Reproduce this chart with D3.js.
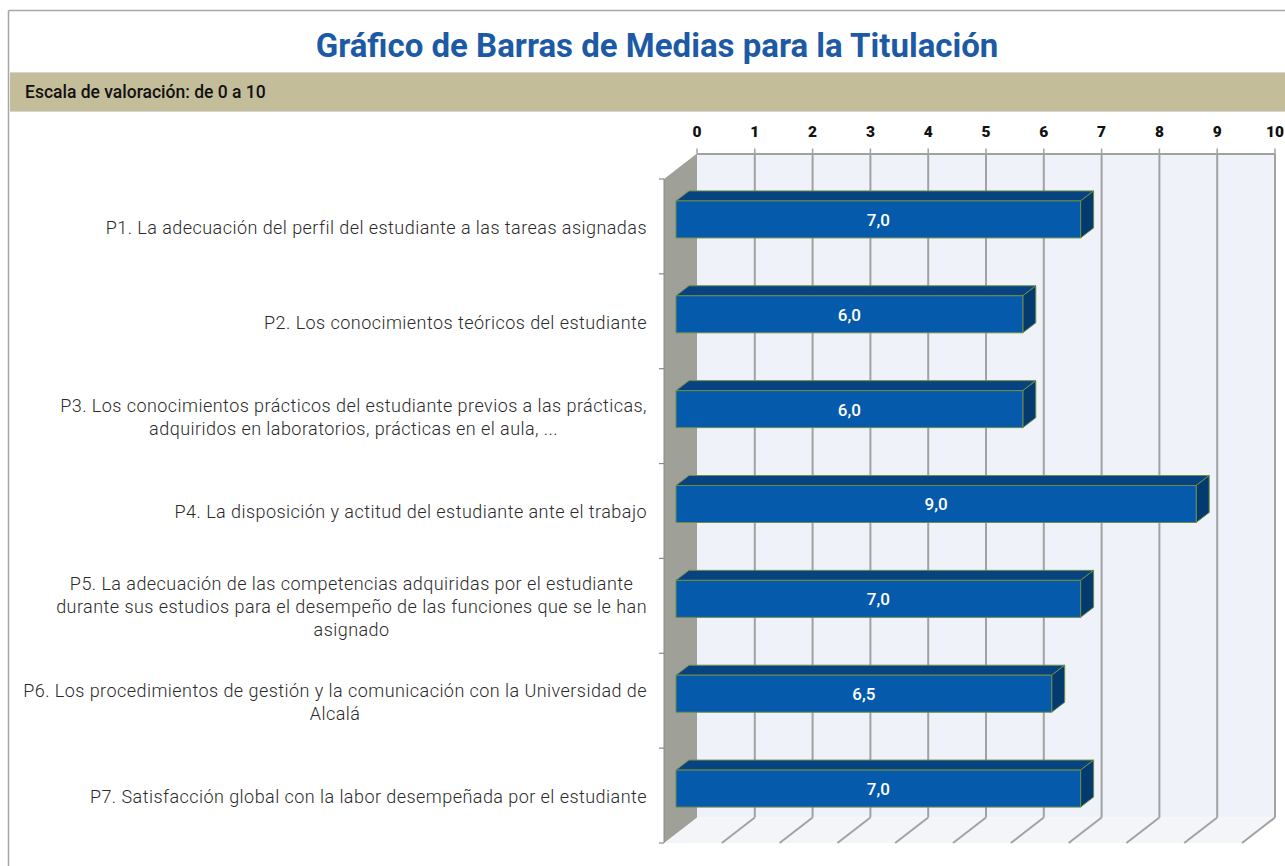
<!DOCTYPE html>
<html><head><meta charset="utf-8">
<script src="https://cdn.jsdelivr.net/npm/d3@7"></script>
<style>
html,body{margin:0;padding:0;background:#fff;}
svg{display:block;}
</style></head>
<body>
<svg id="chart" width="1285" height="866"></svg>
<script>
const title = "Gráfico de Barras de Medias para la Titulación";
const scaleNote = "Escala de valoración: de 0 a 10";
const categories = ["P1","P2","P3","P4","P5","P6","P7"];
const labels = [
  ["P1. La adecuación del perfil del estudiante a las tareas asignadas"],
  ["P2. Los conocimientos teóricos del estudiante"],
  ["P3. Los conocimientos prácticos del estudiante previos a las prácticas,","adquiridos en laboratorios, prácticas en el aula, ..."],
  ["P4. La disposición y actitud del estudiante ante el trabajo"],
  ["P5. La adecuación de las competencias adquiridas por el estudiante","durante sus estudios para el desempeño de las funciones que se le han","asignado"],
  ["P6. Los procedimientos de gestión y la comunicación con la Universidad de","Alcalá"],
  ["P7. Satisfacción global con la labor desempeñada por el estudiante"]
];
const values = [7.0, 6.0, 6.0, 9.0, 7.0, 6.5, 7.0];
const tickValues = [0,1,2,3,4,5,6,7,8,9,10];

const svg = d3.select("#chart");

// frame
svg.append("line").attr("x1",8.5).attr("y1",10.5).attr("x2",1285).attr("y2",10.5).attr("stroke","#a6a6a6").attr("stroke-width",1.5);
svg.append("line").attr("x1",8.5).attr("y1",10.5).attr("x2",8.5).attr("y2",866).attr("stroke","#a6a6a6").attr("stroke-width",1.5);

// title
svg.append("text").attr("x",657).attr("y",57).attr("text-anchor","middle")
  .attr("font-family","Roboto, 'DejaVu Sans', sans-serif").attr("font-weight","bold")
  .attr("font-size",33).attr("fill","#1d5aa5").text(title);

// header band
svg.append("rect").attr("x",10).attr("y",72).attr("width",1275).attr("height",40)
  .attr("fill","#c4bd9a");
svg.append("line").attr("x1",10).attr("x2",1285).attr("y1",72.5).attr("y2",72.5).attr("stroke","#d6d6d6");
svg.append("line").attr("x1",10).attr("x2",1285).attr("y1",111.5).attr("y2",111.5).attr("stroke","#d6d6d6");
svg.append("text").attr("x",25).attr("y",98).attr("font-family","Roboto, sans-serif")
  .attr("font-weight","500").attr("font-size",17.5).attr("fill","#111").text(scaleNote);

// scales (front plane)
const x = d3.scaleLinear().domain([0,10]).range([664,1242]);
const y = d3.scaleBand().domain(categories).range([179,843]).paddingInner(0.61).paddingOuter(0.305);
const yb = d3.scaleBand().domain(categories).range([179,843]);
const D = [33, -25.5]; // wall depth vector
const FB = [12, -7], BB = [25, -17]; // bar front/back depth offsets

const yTop = 179, yBot = 843;

// back wall
svg.append("rect").attr("x",x(0)+D[0]).attr("y",yTop+D[1]).attr("width",x(10)-x(0)).attr("height",yBot-yTop)
  .attr("fill","#eff2f8");
// floor
svg.append("polygon").attr("points",[[x(0),yBot],[x(10),yBot],[x(10)+D[0],yBot+D[1]],[x(0)+D[0],yBot+D[1]]].map(p=>p.join(",")).join(" "))
  .attr("fill","#f3f5f9");
// left wall
svg.append("polygon").attr("points",[[x(0),yTop],[x(0)+D[0],yTop+D[1]],[x(0)+D[0],yBot+D[1]],[x(0),yBot]].map(p=>p.join(",")).join(" "))
  .attr("fill","#9fa098");
svg.append("line").attr("x1",x(0)).attr("x2",x(0)).attr("y1",yTop).attr("y2",yBot).attr("stroke","#8a8a84").attr("stroke-width",1);

// gridlines
const grid = svg.append("g").attr("stroke","#a2a2a2").attr("stroke-width",2).attr("fill","none");
tickValues.forEach(t=>{
  const bx = x(t)+D[0];
  if(t>0){
    grid.append("line").attr("x1",bx).attr("x2",bx).attr("y1",yTop+D[1]).attr("y2",yBot+D[1]);
    grid.append("line").attr("x1",bx).attr("x2",x(t)).attr("y1",yBot+D[1]).attr("y2",yBot);
  }
  grid.append("line").attr("x1",bx).attr("x2",bx).attr("y1",yTop+D[1]-5).attr("y2",yTop+D[1]).attr("stroke-width",1.5);
});
grid.append("line").attr("x1",x(0)+D[0]).attr("x2",x(10)+D[0]).attr("y1",yTop+D[1]+0.5).attr("y2",yTop+D[1]+0.5).attr("stroke-width",2);

// left wall ticks
const bounds = categories.map(c=>yb(c)).concat([yBot]);
bounds.forEach(b=>{
  svg.append("line").attr("x1",x(0)-5).attr("x2",x(0)).attr("y1",b).attr("y2",b).attr("stroke","#8a8a84").attr("stroke-width",1.2);
});

// top axis labels
svg.append("g").selectAll("text").data(tickValues).join("text")
  .attr("x",d=>x(d)+D[0]).attr("y",137).attr("text-anchor","middle")
  .attr("font-family","Roboto, sans-serif").attr("font-weight","900").attr("font-size",15.5)
  .attr("fill","#111").text(d=>d);

// bars
const bars = svg.append("g");
categories.forEach((c,i)=>{
  const v = values[i];
  const x0 = x(0)+FB[0], x1 = x(v)+FB[0];
  const y0 = y(c)+FB[1], y1 = y0 + y.bandwidth();
  const dx = BB[0]-FB[0], dy = BB[1]-FB[1];
  const g = bars.append("g").attr("stroke","#6f8c45").attr("stroke-width",1).attr("stroke-linejoin","round");
  g.append("polygon").attr("points",[[x0,y0],[x1,y0],[x1+dx,y0+dy],[x0+dx,y0+dy]].map(p=>p.join(",")).join(" "))
    .attr("fill","#064380");
  g.append("polygon").attr("points",[[x1,y0],[x1+dx,y0+dy],[x1+dx,y1+dy],[x1,y1]].map(p=>p.join(",")).join(" "))
    .attr("fill","#033b70");
  g.append("rect").attr("x",x0).attr("y",y0).attr("width",x1-x0).attr("height",y1-y0).attr("fill","#065aab");
  bars.append("text").attr("x",(x0+x1)/2).attr("y",(y0+y1)/2).attr("dy","0.38em")
    .attr("text-anchor","middle").attr("font-family","Roboto, sans-serif").attr("font-weight","500")
    .attr("font-size",17).attr("fill","#fff").text(v.toFixed(1).replace(".",","));
});

// category labels
const lab = svg.append("g").attr("font-family","Roboto, sans-serif").attr("font-weight","300")
  .attr("font-size",18).attr("letter-spacing","0.45px").attr("fill","#2a2a2a");
const lh = 23;
categories.forEach((c,i)=>{
  const lines = labels[i];
  const t = lab.append("text").attr("text-anchor","middle");
  const cy = yb(c)+yb.bandwidth()/2 + 1;
  const startY = cy - (lines.length-1)*lh/2;
  const spans = lines.map((l,j)=>t.append("tspan").attr("y",startY+j*lh).attr("dy","0.35em").text(l));
  const maxW = d3.max(spans.map(s=>s.node().getComputedTextLength()));
  spans.forEach(s=>s.attr("x",647-maxW/2));
});
</script>
</body></html>
